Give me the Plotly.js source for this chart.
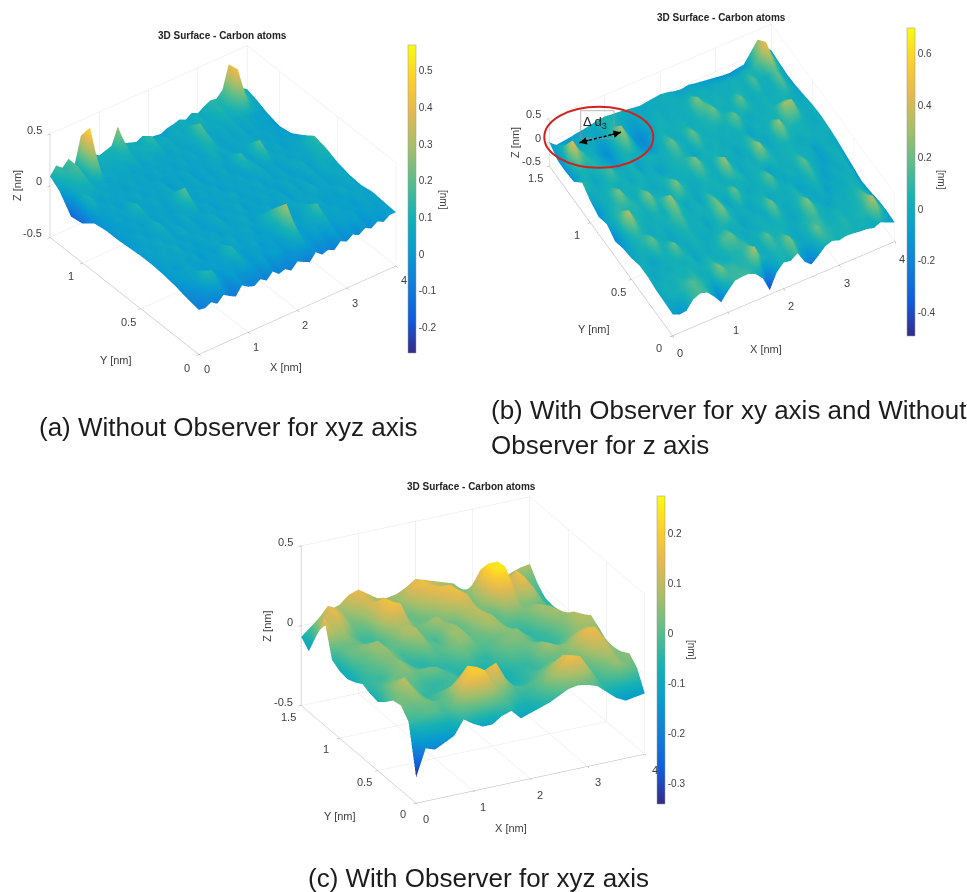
<!DOCTYPE html>
<html><head><meta charset="utf-8"><script src="https://cdn.plot.ly/plotly-3.0.1.min.js"></script>
<style>body{margin:0;background:#fff}</style></head><body><div id="g" style="width:967px;height:892px"></div>
<script>
const W=967,H=892;
const xsA=[0,.125,.25,.375,.5,.625,.75,.875,1,1.125,1.25,1.375,1.5,1.625,1.75,1.875,2,2.125,2.25,2.375,2.5,2.625,2.75,2.875,3,3.125,3.25,3.375,3.5,3.625,3.75,3.875,4];
const ysA=[0,.1,.2,.3,.4,.5,.6,.7,.8,.9,1,1.1,1.2,1.28];
const ysB=[0,.1,.2,.3,.4,.5,.6,.7,.8,.9,1,1.1,1.2,1.3,1.4,1.5];
const xsC=[0,.167,.333,.5,.667,.833,1,1.167,1.333,1.5,1.667,1.833,2,2.167,2.333,2.5,2.667,2.833,3,3.167,3.333,3.5,3.667,3.833,4];
const zA=[
[-.07,-.08,-.05,-.09,-.03,-.07,-.1,-.02,-.06,-.08,-.04,-.08,-.02,-.07,-.05,-.09,-.03,-.06,-.09,-.02,-.07,-.05,-.08,-.02,-.05,-.01,-.04,0,-.03,.01,-.02,.02,.02],
[-.05,-.03,0,.13,.12,.02,-.02,.03,0,.05,.02,0,.04,-.01,.03,.02,-.01,.05,.1,.02,0,.04,.01,.05,0,.04,.02,.05,0,.03,.04,.02,.03],
[-.02,.02,.04,.05,.03,0,.04,.02,.06,.13,.05,.01,.03,.05,0,.04,.02,.08,.3,.06,.02,.05,.08,.17,.04,.03,.05,.02,.04,.01,.05,.03,.04],
[0,.03,.01,.05,.02,.06,0,.04,.01,.06,.03,.07,.02,.04,.06,.01,.05,.1,.17,.05,.03,.01,.05,.07,.03,.06,.01,.04,.02,.07,.03,.06,.02],
[.01,.02,.06,.03,.08,.02,.05,.01,.06,.03,.05,.01,.06,.03,.04,.07,.02,.05,.03,.06,.01,.04,.06,.02,.05,.03,.08,.03,.05,.02,.04,.07,.03],
[.01,.05,.02,.07,.03,.05,.02,.07,.03,.05,.01,.04,.08,.02,.05,.03,.07,.01,.05,.02,.06,.03,.05,.01,.07,.03,.05,.02,.06,.03,.08,.05,.06],
[0,.02,.06,.02,.05,.1,.03,.04,.02,.07,.03,.05,.02,.06,.01,.05,.03,.08,.02,.05,.03,.07,.02,.05,.03,.06,.02,.05,.08,.03,.06,.1,.11],
[-.01,.03,.01,.05,.02,.06,.02,.05,.03,.02,.08,.2,.06,.02,.05,.03,.06,.01,.05,.03,.06,.02,.05,.08,.03,.05,.02,.07,.03,.06,.04,.09,.14],
[-.01,.01,.05,.02,.06,.12,.04,.02,.06,.03,.05,.07,.02,.05,.03,.06,.02,.05,.03,.07,.02,.05,.15,.06,.03,.2,.08,.03,.06,.02,.05,.04,.06],
[-.03,.02,.03,.06,.02,.05,.03,.07,.02,.05,.03,.06,.01,.05,.03,.06,.02,.05,.03,.06,.08,.03,.06,.03,.05,.07,.04,.06,.03,.05,.02,.03,-.01],
[-.12,.12,.05,.02,.06,.03,.05,.02,.06,.03,.05,.02,.06,.03,.05,.02,.07,.03,.06,.03,.1,.12,.05,.03,.06,.04,.07,.03,.05,.03,.04,.02,-.03],
[-.14,.06,.08,.1,.04,.07,.03,.06,.04,.06,.03,.06,.03,.07,.04,.06,.03,.07,.04,.05,.08,.2,.07,.04,.07,.05,.08,.05,.07,.05,.03,.04,0],
[.02,.1,.14,.18,.08,.5,.09,.06,.08,.07,.1,.12,.06,.08,.1,.15,.06,.08,.05,.08,.06,.09,.07,.1,.06,.09,.12,.1,.2,.42,.18,.08,.05],
[.09,.17,.12,.18,.1,.35,.1,.12,.08,.1,.12,.28,.09,.07,.05,.08,.04,.03,.02,.05,.06,.08,.05,.09,.06,.1,.13,.12,.18,.4,.2,.12,.08]];
const zB=[
[-.05,-.12,-.1,.08,.14,.1,-.05,-.23,-.05,.1,.12,.12,.05,-.1,-.41,-.1,.05,.02,.12,-.12,-.24,-.12,.02,.07,.02,.05,.04,.02,.01,-.03,.03,-.04,-.1],
[-.03,.01,.03,.08,.16,.1,.03,-.02,.25,.1,.1,.06,.08,.33,.03,0,.05,.06,.24,.03,-.04,.01,.2,.08,.05,.03,.07,.02,.05,.08,.35,.08,-.08],
[-.02,.03,.01,.05,.02,.06,.01,.03,.08,.03,.01,.05,.06,.12,.03,0,.18,.04,.06,0,-.02,.03,.07,.12,.02,0,.04,0,.02,.05,.16,.03,-.1],
[.02,-.04,.02,-.01,.04,0,.05,-.04,.01,-.01,.03,.15,.2,.04,-.02,.02,0,.03,.01,.05,0,-.04,.04,.25,.05,0,-.05,.01,-.01,.03,.05,-.02,-.15],
[.02,0,-.05,.03,.01,.2,.02,-.02,.04,0,-.01,.02,.05,0,.03,-.06,.01,.02,-.02,.22,.03,-.01,.01,.07,0,-.04,.02,-.07,0,-.02,.03,0,-.18],
[-.06,.02,.05,.2,.04,0,-.04,.02,.06,0,.03,-.05,.05,.25,.05,0,.02,-.04,.03,.05,-.02,.02,0,.03,-.06,0,.08,0,-.08,.01,-.02,.02,-.13],
[-.1,0,.08,.03,-.02,.03,0,.07,.16,.02,0,.03,.01,.18,.03,-.05,.2,.03,-.02,0,.04,.18,.02,-.04,.03,0,.18,.03,-.02,-.07,0,.03,-.08],
[-.18,.06,.35,.08,.02,0,.05,0,.3,.07,-.02,.02,-.04,.04,0,.05,0,.02,.06,-.01,.02,.03,-.06,.04,0,.03,.05,0,.02,-.08,.01,-.01,-.03],
[-.06,.04,.1,.04,.07,.03,.25,.05,.03,0,.25,.06,0,-.01,.07,.02,0,.3,.05,-.02,.03,0,.3,.07,0,.02,.04,.01,-.02,.03,0,.02,0],
[-.14,0,.04,.25,.05,0,.07,0,-.02,.03,.05,0,.02,.04,.25,.06,0,.07,0,.03,-.05,.02,.12,.03,-.04,.04,.3,.07,.05,.03,0,-.02,.02],
[-.05,0,.02,.05,0,.03,-.02,.04,0,.02,-.07,0,.05,.07,.03,-.04,.05,0,.04,-.01,.03,0,.02,-.06,.04,0,.05,.03,.3,.3,.03,0,0],
[.1,.03,-.04,.03,.15,.02,0,.05,-.07,0,.04,0,.03,.2,.04,0,.2,.05,0,.03,0,.05,.2,.04,-.02,.02,0,.04,.02,.05,0,-.02,-.04],
[-.12,.06,.03,.07,0,-.05,-.1,.03,.1,0,-.1,-.12,0,.05,0,.02,.05,0,.03,.07,.22,.05,0,.03,.2,.03,0,.03,0,.02,.15,0,-.08],
[-.15,.45,.18,.03,0,-.1,-.16,.05,.33,.07,-.12,-.18,-.07,.01,.04,0,.02,0,.05,.25,.07,.01,.04,0,.02,.05,0,.15,.02,0,.2,.02,-.1],
[-.14,.1,.02,-.02,0,0,-.05,.02,.07,.02,-.05,-.07,0,-.02,.01,-.01,0,.02,0,.03,0,.02,-.01,.01,0,.02,0,.03,.05,.2,.49,.12,-.08],
[0,-.12,-.1,-.08,-.05,-.03,0,.03,.05,.03,.02,0,-.02,-.04,-.02,0,.02,0,-.04,-.06,-.03,-.06,-.08,-.1,-.12,-.14,-.15,-.12,-.1,.1,.3,.1,-.05]];
const zC=[
[-.34,-.17,-.19,-.16,-.13,-.04,-.08,-.11,-.11,-.07,-.05,-.11,-.09,-.07,-.05,-.02,.01,.02,.01,-.01,-.06,-.11,-.14,-.13,-.12],
[-.03,-.02,0,0,-.03,.04,.16,.21,.19,.08,.02,-.03,-.06,-.04,0,.06,.12,.17,.15,.06,-.03,0,.06,.03,0],
[.03,.01,.03,.02,0,.02,.12,.19,.17,.12,.17,.06,-.01,-.02,0,.03,.08,.13,.11,.04,-.01,.04,.08,.03,.05],
[.02,.04,.07,.01,-.03,0,.03,.05,.05,.07,.1,.04,-.03,-.05,-.04,-.01,.02,.05,.04,.01,.04,.11,.12,.05,.02],
[-.03,.05,.1,.02,-.04,-.04,-.03,-.02,-.02,-.01,.02,0,-.05,-.07,-.05,-.03,-.03,0,.01,.03,.08,.15,.16,.08,0],
[-.07,.02,.04,.01,0,-.03,-.04,-.03,-.01,-.04,-.04,-.05,-.07,-.07,-.05,-.04,-.03,.03,.07,.04,.05,.1,.12,.06,.01],
[-.06,-.02,0,.03,.04,.01,.03,.02,-.02,-.05,-.06,-.06,-.07,-.04,-.02,0,0,.02,.04,0,-.01,.03,.06,.05,.05],
[-.04,-.03,-.03,.02,.05,.01,-.03,-.04,-.05,-.04,-.01,.01,-.03,-.04,0,.03,.04,.03,-.01,-.04,-.04,0,.05,.09,.085],
[-.07,-.03,0,.03,.04,0,-.04,-.05,-.01,-.01,.02,.05,.04,0,0,.02,.04,.05,0,-.04,-.03,.02,.05,.08,.05],
[-.09,-.02,.01,.05,.06,.01,-.03,.02,.05,0,0,.06,.07,.01,.03,.08,.06,.01,-.04,-.04,.01,.06,.07,.03,0],
[-.08,.01,.03,.05,.06,0,.02,.08,.09,.01,-.02,.04,.06,0,.06,.1,.07,0,-.01,0,.04,.07,.05,0,-.04],
[-.05,.01,.02,.01,-.01,-.03,.04,.08,.07,.01,.04,.08,.03,.02,.09,.1,.03,-.01,.08,.1,.03,.03,.01,-.03,-.05],
[.17,.08,.08,.01,-.03,-.02,.11,.17,.16,.03,.01,.02,.05,.12,.17,.13,.02,.08,.23,.25,.1,.16,.08,-.02,-.06],
[.02,.11,.15,.08,.01,.02,.11,.17,.13,.02,.02,.08,.13,.16,.16,.08,0,.1,.24,.24,.08,.16,.08,-.01,-.05],
[-.12,.06,.14,.11,.04,.08,.13,.09,.03,.02,.07,.14,.17,.13,.07,.04,.02,.06,.16,.12,.03,.08,.09,.02,0],
[-.07,-.02,.03,.06,.08,.13,.15,.11,.07,.06,.07,.1,.14,.12,.1,.08,.06,0,-.07,-.05,-.02,.02,.05,.07,.08]];
const xTicks=[0,1,2,3,4];
const yTicksA=[0,.5,1];
const yTicksB=[0,.5,1,1.5];
const zTicks=[-.5,0,.5];
const cbTicksA=[-.2,-.1,0,.1,.2,.3,.4,.5];
const cbTicksB=[-.4,-.2,0,.2,.4,.6];
const cbTicksC=[-.3,-.2,-.1,0,.1,.2];
const titleText='3D Surface - Carbon atoms';
const parula=[[0,'#352a87'],[1/9,'#0f5cdd'],[2/9,'#127dd8'],[3/9,'#079ccf'],[4/9,'#15b1b4'],[5/9,'#59bd8c'],[6/9,'#a5be6b'],[7/9,'#e1b952'],[8/9,'#fcce2e'],[1,'#f9fb0e']];
const FF='Liberation Sans',TC='#404040';
function dom(cx,cy,w,h){return {x:[(cx-w/2)/W,(cx+w/2)/W],y:[1-(cy+h/2)/H,1-(cy-h/2)/H]};}
function axis(r,vals){return {title:{text:''},range:r,tickvals:vals,showticklabels:false,gridcolor:'#e4e4e4',showspikes:false,zeroline:false,showbackground:false,linecolor:'#b4b4b4',showline:true,ticks:'outside',ticklen:3,tickcolor:'#999'};}
function tl(x,y,z,t,xa,xs,ys){return {x:x,y:y,z:z,text:String(t),showarrow:false,xanchor:xa,yanchor:'middle',xshift:xs,yshift:ys,font:{family:FF,size:11,color:TC}};}
function scene(d,eye,k,az,ym,yv,sh){
 const an=[];
 xTicks.forEach(v=>an.push(tl(v,0,-.5,v,'center',sh.xx,-sh.xy)));
 yv.forEach(v=>an.push(tl(0,v,-.5,v,'center',sh.yx,-sh.yy)));
 zTicks.forEach(v=>an.push(tl(0,ym,v,v,'right',-6,4)));
 return {domain:d,aspectmode:'manual',aspectratio:{x:k,y:k,z:k*az},camera:{eye:{x:eye[0]*2,y:eye[1]*2,z:eye[2]*2},center:{x:0,y:0,z:0},up:{x:0,y:0,z:1},projection:{type:'orthographic'}},
 xaxis:axis([0,4],xTicks),yaxis:axis([0,ym],yv),zaxis:axis([-.5,.5],zTicks),annotations:an};}
function surf(name,x,z,y,cmin,cmax,cbx,cby,tv){return {type:'surface',scene:name,x:x,y:y,z:z,colorscale:parula,cmin:cmin,cmax:cmax,showscale:true,hoverinfo:'skip',lighting:{ambient:1,diffuse:0,specular:0,roughness:1,fresnel:0},
 colorbar:{x:cbx/W,xanchor:'left',y:1-cby/H,yanchor:'top',len:308,lenmode:'pixels',thickness:8,thicknessmode:'pixels',xpad:0,ypad:0,tickvals:tv,ticktext:tv.map(String),tickfont:{family:FF,size:10,color:TC},outlinecolor:'#999',outlinewidth:.5,ticks:''}};}
function pa(x,y,text,o){return Object.assign({xref:'paper',yref:'paper',x:x/W,y:1-y/H,text:text,showarrow:false,xanchor:'center',yanchor:'middle',font:{family:FF,size:11,color:TC}},o||{});}
const bold={font:{family:FF,size:10,color:'#222'}};
const capF={xanchor:'left',font:{family:FF,size:26,color:'#1c1c1c'}};
const annotations=[
 pa(222,35,'<b>'+titleText+'</b>',bold),pa(721,18,'<b>'+titleText+'</b>',bold),pa(471.7,486,'<b>'+titleText+'</b>',bold),
 pa(286,367,'X [nm]'),pa(116,360,'Y [nm]'),pa(17,186,'Z [nm]',{textangle:-90}),
 pa(765.7,349,'X [nm]'),pa(594,329,'Y [nm]'),pa(515,143,'Z [nm]',{textangle:-90}),
 pa(510.7,827.7,'X [nm]'),pa(340,815.7,'Y [nm]'),pa(266.7,626,'Z [nm]',{textangle:-90}),
 pa(443,200,'[nm]',{textangle:90,font:{family:FF,size:10,color:TC}}),pa(942,180,'[nm]',{textangle:90,font:{family:FF,size:10,color:TC}}),pa(692,650,'[nm]',{textangle:90,font:{family:FF,size:10,color:TC}}),
 pa(37,427,'(a) Without Observer for xyz axis',capF),pa(489,410,'(b) With Observer for xy axis and Without',capF),pa(489,445,'Observer for z axis',capF),pa(306,878,'(c) With Observer for xyz axis',capF),
 pa(595,122,'&#916; d<sub>3</sub>',{font:{family:FF,size:13,color:'#222'}}),
 {xref:'paper',yref:'paper',axref:'paper',ayref:'paper',x:621/W,y:1-132.3/H,ax:610/W,ay:1-135/H,text:'',showarrow:true,arrowhead:2,arrowsize:1,arrowwidth:1.5,arrowcolor:'#000'},
 {xref:'paper',yref:'paper',axref:'paper',ayref:'paper',x:579.3/W,y:1-142.7/H,ax:590/W,ay:1-140/H,text:'',showarrow:true,arrowhead:2,arrowsize:1,arrowwidth:1.5,arrowcolor:'#000'}
];
const shapes=[
 {type:'circle',xref:'paper',yref:'paper',x0:544.3/W,x1:653.3/W,y0:1-167.7/H,y1:1-106.7/H,line:{color:'#d2211f',width:2}},
 {type:'rect',xref:'paper',yref:'paper',x0:580.7/W,x1:614/W,y0:1-138.3/H,y1:1-110.7/H,line:{color:'#999',width:.7}},
 {type:'line',xref:'paper',yref:'paper',x0:579.3/W,x1:621/W,y0:1-142.7/H,y1:1-132.3/H,line:{color:'#000',width:1.5,dash:'3px,2px'}}
];
const data=[surf('scene',xsA,zA,ysA,-.27,.57,408,45,cbTicksA),surf('scene2',xsA,zB,ysB,-.49,.7,907,28,cbTicksB),surf('scene3',xsC,zC,ysB,-.34,.275,657,496,cbTicksC)];
const layout={width:W,height:H,margin:{l:0,r:0,t:0,b:0},paper_bgcolor:'#fff',showlegend:false,annotations:annotations,shapes:shapes,
 scene:scene(dom(223,199.5,440,358),[-.485,-.642,.594],1.38,.52,1.28,yTicksA,{xx:8,xy:15,yx:-12,yy:14}),
 scene2:scene(dom(721.7,179.5,440,358),[-.313,-.564,.764],1.42,.29,1.5,yTicksB,{xx:8,xy:18,yx:-13,yy:13}),
 scene3:scene(dom(473,650,440,358),[-.406,-.808,.427],1.43,.69,1.5,yTicksB,{xx:10,xy:16,yx:-13,yy:11})};
Plotly.newPlot('g',data,layout,{displayModeBar:false});
</script></body></html>
